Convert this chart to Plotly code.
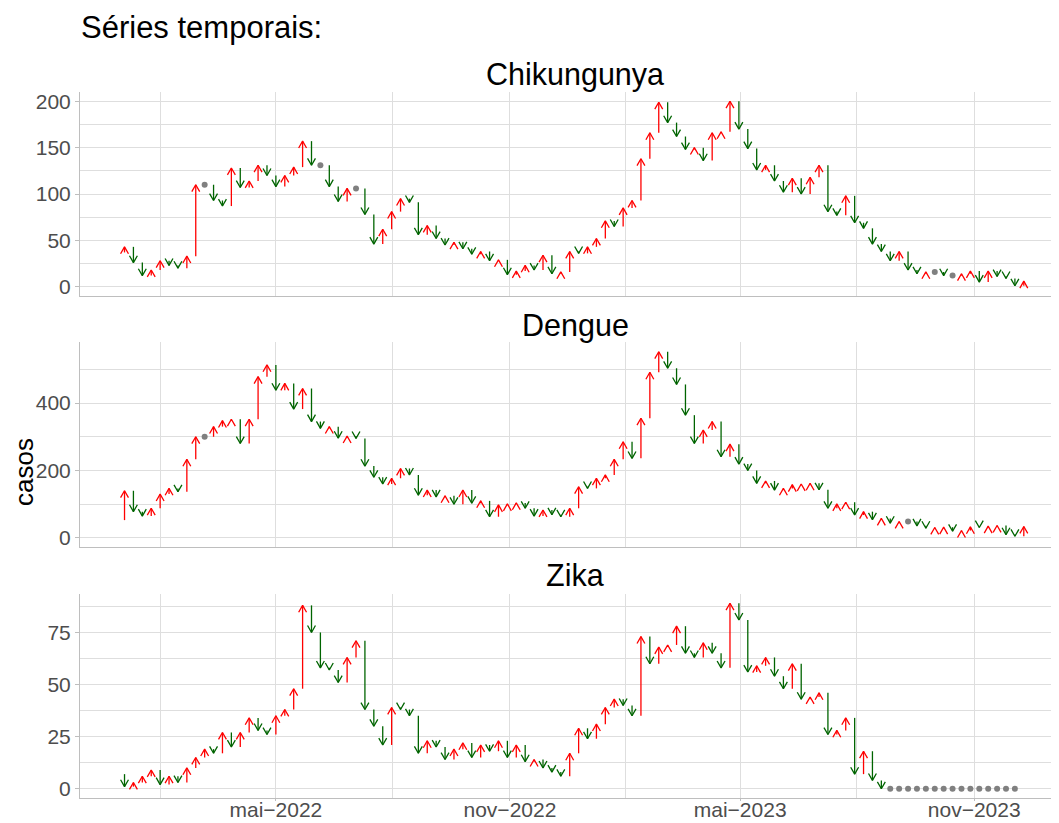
import pandas as pd
import plotly.graph_objects as go

# ---------------- data (weekly cases; first value = week before the plotted window)
semanas = pd.date_range("2021-12-26", periods=103, freq="7D")

chikungunya = [37,
    43, 26, 12, 18, 28, 23, 20, 33, 110, 110,
    93, 87, 128, 107, 114, 131, 120, 108, 120, 129,
    157, 131, 131, 108, 92, 106, 106, 78, 46, 62,
    81, 95, 91, 56, 66, 52, 45, 48, 41, 35,
    38, 28, 29, 13, 17, 23, 18, 34, 14, 16,
    38, 36, 43, 52, 71, 65, 85, 93, 138, 166,
    199, 177, 162, 148, 150, 136, 166, 167, 200, 170,
    149, 126, 131, 114, 102, 117, 100, 118, 131, 81,
    77, 98, 69, 63, 46, 38, 28, 38, 18, 14,
    16, 16, 12, 12, 14, 17, 5, 17, 11, 9,
    1, 6]

dengue = [53,
    140, 78, 65, 88, 130, 147, 137, 233, 300, 300,
    330, 348, 352, 280, 352, 478, 513, 438, 458, 382,
    443, 345, 325, 330, 296, 302, 295, 213, 180, 160,
    177, 206, 187, 127, 142, 122, 125, 100, 142, 103,
    110, 63, 98, 101, 104, 88, 65, 83, 69, 63,
    88, 152, 147, 177, 187, 233, 285, 236, 355, 491,
    552, 503, 455, 364, 280, 320, 345, 241, 278, 219,
    200, 162, 169, 142, 147, 158, 160, 162, 143, 88,
    101, 106, 68, 78, 54, 58, 44, 49, 49, 36,
    29, 31, 32, 20, 22, 33, 31, 35, 37, 10,
    5, 34]

zika = [7,
    1, 3, 6, 9, 2, 6, 3, 10, 15, 19,
    17, 27, 20, 27, 34, 28, 26, 35, 38, 48,
    88, 75, 58, 57, 51, 63, 71, 38, 30, 21,
    39, 38, 35, 17, 23, 20, 14, 19, 22, 15,
    21, 18, 23, 15, 21, 13, 14, 10, 8, 6,
    17, 29, 24, 31, 39, 43, 40, 35, 73, 60,
    68, 69, 78, 65, 63, 70, 65, 58, 89, 81,
    56, 59, 63, 54, 48, 60, 43, 44, 46, 26,
    28, 34, 7, 18, 4, 0, 0, 0, 0, 0,
    0, 0, 0, 0, 0, 0, 0, 0, 0, 0,
    0, None]

doencas = ["Chikungunya", "Dengue", "Zika"]
series = {"Chikungunya": chikungunya, "Dengue": dengue, "Zika": zika}

y_ticks = {"Chikungunya": [0, 50, 100, 150, 200],
           "Dengue": [0, 200, 400],
           "Zika": [0, 25, 50, 75]}
y_minor = {"Chikungunya": [25, 75, 125, 175],
           "Dengue": [100, 300, 500],
           "Zika": [12.5, 37.5, 62.5, 87.5]}

x_ticks = ["2022-05-01", "2022-11-01", "2023-05-01", "2023-11-01"]
x_labels = ["mai\u22122022", "nov\u22122022", "mai\u22122023", "nov\u22122023"]
x_minor = ["2022-01-30 12:00", "2022-07-31 12:00", "2023-01-30 12:00", "2023-07-31 12:00"]

# ---------------- style / layout constants
# the page body has an 8px margin, so the figure is drawn 8px in from the window corner
OFF = 8
W, H = 1059 - OFF, 823 - OFF


def px(xp):   # window x pixel -> paper x
    return (xp - OFF) / W


def py(yp):   # window y pixel -> paper y
    return 1 - (yp - OFF) / H


L = 80
painel_px = {"Chikungunya": (92, 296), "Dengue": (342, 547), "Zika": (594, 798)}
y_range = {"Chikungunya": (-10, 210), "Dengue": (-26.7, 580.8), "Zika": (-4.45, 93.45)}
x_range = ["2021-11-28", "2024-01-06 16:00"]
titulo_y = {"Chikungunya": 75, "Dengue": 325, "Zika": 575}

COR_SOBE = "#FF0000"
COR_DESCE = "#006400"
COR_IGUAL = "#808080"
GRID = "#DEDEDE"
AXIS = "#BEBEBE"
TXT = "#4D4D4D"
FONT = "Liberation Sans, Arial, sans-serif"

ARM_DX = pd.Timedelta(days=3.1)   # ~4 px half width of arrow head
ARM_DY_PX = 6.9                    # ~7 px arrow head height

fig = go.Figure()

for k, nome in enumerate(doencas, start=1):
    vals = series[nome]
    top, bot = painel_px[nome]
    y0, y1 = y_range[nome]
    dy = ARM_DY_PX / ((bot - top) / (y1 - y0))
    xs = {"up": [], "down": []}
    ys = {"up": [], "down": []}
    gx, gy = [], []
    for i in range(1, len(vals)):
        prev, cur = vals[i - 1], vals[i]
        if cur is None or prev is None:
            continue
        x = semanas[i]
        if cur > prev:
            key, s = "up", -1
        elif cur < prev:
            key, s = "down", 1
        else:
            gx.append(x); gy.append(cur)
            continue
        xs[key] += [x, x, None, x - ARM_DX, x, x + ARM_DX, None]
        ys[key] += [prev, cur, None, cur + s * dy, cur, cur + s * dy, None]
    suf = "" if k == 1 else str(k)
    for key, cor in (("up", COR_SOBE), ("down", COR_DESCE)):
        fig.add_trace(go.Scatter(x=xs[key], y=ys[key], mode="lines",
                                 line=dict(color=cor, width=1.3),
                                 xaxis="x" + suf, yaxis="y" + suf,
                                 showlegend=False, hoverinfo="skip"))
    fig.add_trace(go.Scatter(x=gx, y=gy, mode="markers",
                             marker=dict(color=COR_IGUAL, size=6),
                             xaxis="x" + suf, yaxis="y" + suf,
                             showlegend=False, hoverinfo="skip"))

    dom_y = [py(bot), py(top)]
    last = (k == 3)
    fig.layout["xaxis" + suf] = dict(
        domain=[px(L), 1], anchor="y" + suf, type="date", range=x_range,
        tickmode="array", tickvals=x_ticks, ticktext=x_labels,
        showticklabels=last, ticks="outside" if last else "", ticklen=2,
        ticklabelstandoff=-9,
        tickcolor=AXIS, tickfont=dict(size=21, color=TXT, family=FONT),
        showgrid=True, gridcolor=GRID, gridwidth=1.2,
        minor=dict(tickvals=x_minor, showgrid=True, gridcolor=GRID, gridwidth=0.8, ticks=""),
        showline=True, linecolor=AXIS, linewidth=1, zeroline=False,
        automargin=False, fixedrange=True)
    fig.layout["yaxis" + suf] = dict(
        domain=dom_y, anchor="x" + suf, range=list(y_range[nome]),
        tickmode="array", tickvals=y_ticks[nome],
        ticks="outside", ticklen=4, tickcolor=AXIS,
        tickfont=dict(size=21, color=TXT, family=FONT),
        showgrid=True, gridcolor=GRID, gridwidth=1.2,
        minor=dict(tickvals=y_minor[nome], showgrid=True, gridcolor=GRID, gridwidth=0.8, ticks=""),
        showline=True, linecolor=AXIS, linewidth=1, zeroline=False,
        automargin=False, fixedrange=True)

anns = []
for nome in doencas:
    anns.append(dict(text=nome, x=px(575), y=py(titulo_y[nome]), xref="paper", yref="paper",
                     xanchor="center", yanchor="middle", showarrow=False,
                     font=dict(size=30.5, color="black", family=FONT)))
anns.append(dict(text="Séries temporais:", x=px(79), y=py(28), xref="paper", yref="paper",
                 xanchor="left", yanchor="middle", showarrow=False,
                 font=dict(size=31, color="black", family=FONT)))
anns.append(dict(text="casos", x=px(24), y=py(472), xref="paper", yref="paper",
                 xanchor="center", yanchor="middle", showarrow=False, textangle=-90,
                 font=dict(size=26, color="black", family=FONT)))

fig.update_layout(width=W, height=H, margin=dict(l=0, r=0, t=0, b=0),
                  paper_bgcolor="white", plot_bgcolor="white",
                  annotations=anns, font=dict(family=FONT))

fig.write_html("out.html")
